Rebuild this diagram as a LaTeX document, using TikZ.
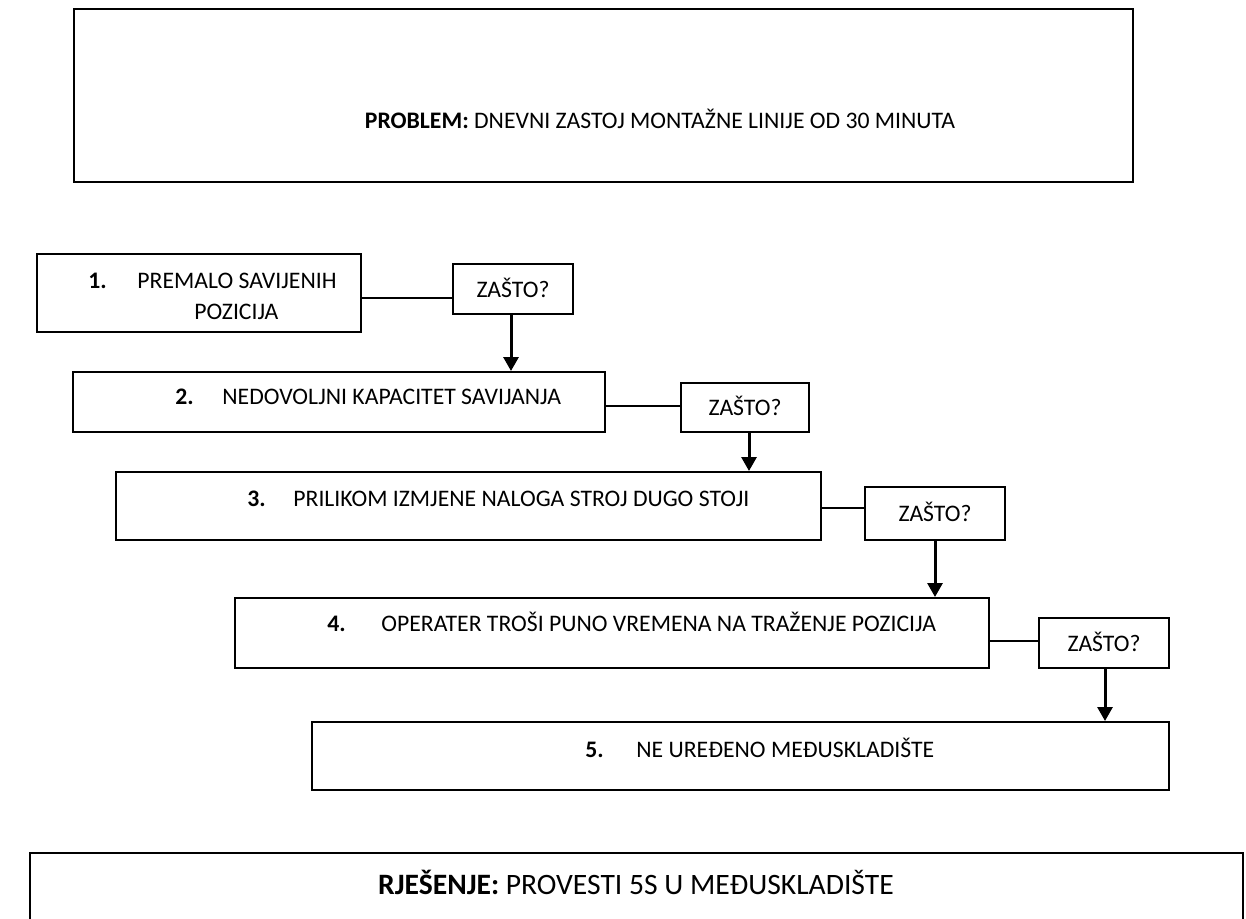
\documentclass[tikz,border=0pt]{standalone}
\usepackage{fontspec}
\setmainfont{Carlito}
\usetikzlibrary{arrows.meta, fit}
\tikzset{
    >={Triangle[width=7.5pt, length=7pt]},
    box/.style={draw, line width=1pt, inner sep=0pt},
    txt/.style={inner sep=0pt, anchor=west, text height=0.64em, text depth=0pt,
        font=\fontsize{11.85}{14}\selectfont},
    num/.style={txt, font=\fontsize{11.85}{14}\selectfont\bfseries},
    big/.style={txt, anchor=center, font=\fontsize{14.8}{18}\selectfont},
    link/.style={line width=1pt},
    down/.style={->, line width=1.5pt},
}
\begin{document}
\begin{tikzpicture}[x=0.5pt, y=-0.5pt]
    \useasboundingbox (0,0) rectangle (1246,919);
    \clip (0,0) rectangle (1246,919);
    % problem and solution
    \node[box, fit={(74,9) (1133,182)}] (prob) {};
    \node[txt, anchor=center] (probtxt) at (660,122) {\textbf{PROBLEM:} DNEVNI ZASTOJ MONTAŽNE LINIJE OD 30 MINUTA};
    \node[box, fit={(30,853) (1243,960)}] (sol) {};
    \node[big] (soltxt) at (636,888) {\textbf{RJEŠENJE:} PROVESTI 5S U MEĐUSKLADIŠTE};
    % the five steps
    \node[box, fit={(37,254) (361,332)}] (b1) {};
    \node[box, fit={(73,372) (605,432)}] (b2) {};
    \node[box, fit={(116,472) (821,540)}] (b3) {};
    \node[box, fit={(235,598) (989,668)}] (b4) {};
    \node[box, fit={(312,722) (1169,790)}] (b5) {};
    \node[num] (n1) at (88,282) {1.};
    \node[txt] (t1) at (137,282) {PREMALO SAVIJENIH};
    \node[txt] (t1b) at (194,313) {POZICIJA};
    \foreach \i/\nx/\tx/\y/\s in {2/175/222/398/NEDOVOLJNI KAPACITET SAVIJANJA,
        3/247/293/500/PRILIKOM IZMJENE NALOGA STROJ DUGO STOJI,
        4/327/381/625/OPERATER TROŠI PUNO VREMENA NA TRAŽENJE POZICIJA,
        5/585/636/751/NE UREĐENO MEĐUSKLADIŠTE} {
        \node[num] (n\i) at (\nx,\y) {\i.};
        \node[txt] (t\i) at (\tx,\y) {\s};
    }
    % why boxes
    \node[box, fit={(453,264) (573,314)}] (q1) {};
    \node[box, fit={(681,383) (809,432)}] (q2) {};
    \node[box, fit={(865,487) (1005,540)}] (q3) {};
    \node[box, fit={(1039,618) (1169,668)}] (q4) {};
    \foreach \i in {1,...,4}
        \node[txt, anchor=center, yshift=-1pt] (w\i) at (q\i) {ZAŠTO?};
    \foreach \a/\b/\y in {b1/q1/298, b2/q2/406, b3/q3/508, b4/q4/641}
        \draw[link] (\a.east |- 0,\y) -- (\b.west |- 0,\y);
    \foreach \a/\b/\x in {q1/b2/511, q2/b3/749, q3/b4/935, q4/b5/1105}
        \draw[down] (\a.south -| \x,0) -- (\b.north -| \x,0);
\end{tikzpicture}
\end{document}
